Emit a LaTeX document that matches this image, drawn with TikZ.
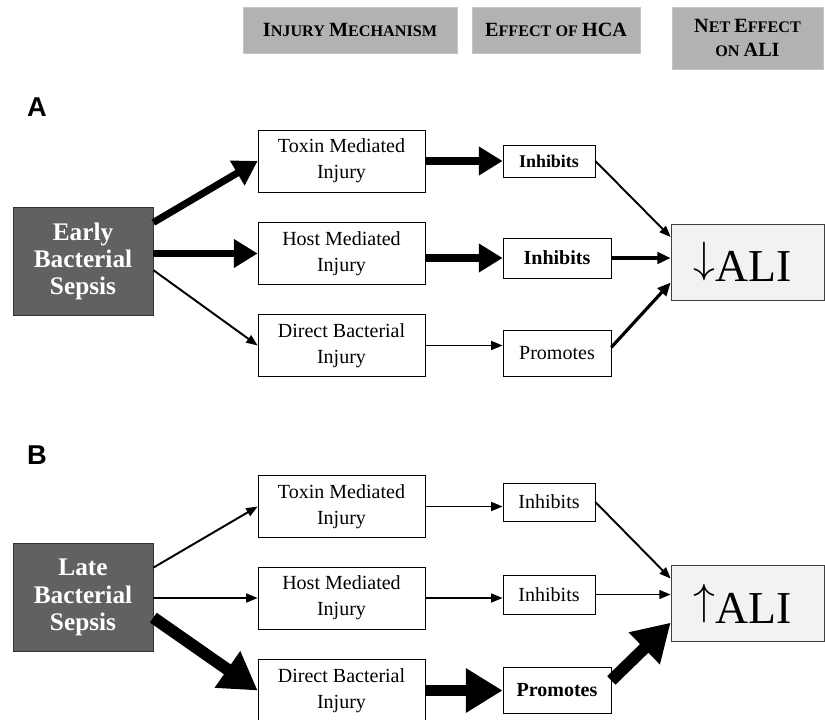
\documentclass[tikz,border=0pt]{standalone}
\usepackage{fontspec}
\setmainfont{Liberation Serif}
\newfontfamily\panelfont{Liberation Sans}
\usetikzlibrary{arrows.meta}
\newcommand{\capl}[1]{{\fontsize{11.5}{14}\selectfont #1}}

\begin{document}
\begin{tikzpicture}[x=0.02cm, y=-0.02cm]
    \tikzstyle{header} = [fill=gray!60, draw=gray!45, inner sep=0pt, align=center, font=\bfseries\fontsize{9.2}{14}\selectfont]
    \tikzstyle{sepsis} = [fill=black!62, draw=black!80, text=white, minimum width=2.8cm, minimum height=2.16cm, align=center, font=\bfseries\fontsize{14.4}{15.6}\selectfont]
    \tikzstyle{mech} = [draw, fill=white, minimum width=3.34cm, minimum height=1.24cm, align=center, font=\fontsize{11.4}{15}\selectfont]
    \tikzstyle{effect} = [draw, fill=white, inner sep=0pt, font=\fontsize{11.4}{14}\selectfont]
    \tikzstyle{ali} = [draw=black!75, fill=gray!10, minimum width=3.06cm, minimum height=1.52cm, font=\fontsize{26}{30}\selectfont]
    \tikzstyle{panel} = [font=\panelfont\bfseries\fontsize{15.5}{18}\selectfont]
    \tikzstyle{lightarrow} = [line width=1.1pt, -{Triangle[length=6.5pt, width=5pt]}]
    \tikzstyle{midarrow} = [line width=1.8pt, -{Triangle[length=7.5pt, width=6.5pt]}]
    \tikzstyle{boldarrow} = [line width=4pt, -{Triangle[length=13.5pt, width=15.5pt]}]
    \tikzstyle{heavyarrow} = [line width=6.8pt, -{Triangle[length=21pt, width=24pt]}]
    \useasboundingbox (0, 0) rectangle (825, 720);

    % column headers
    \node[header, minimum width=4.28cm, minimum height=0.92cm] (hdmech) at (350, 30) {\capl{I}NJURY \capl{M}ECHANISM};
    \node[header, minimum width=3.36cm, minimum height=0.92cm] (hdhca) at (556, 30) {\capl{E}FFECT OF \capl{HCA}};
    \node[header, minimum width=3.02cm, minimum height=1.24cm] (hdnet) at (747.5, 38) {\capl{N}ET \capl{E}FFECT\\ON \capl{ALI}};

    % panel A
    \node[panel] (labA) at (37, 107) {A};
    \node[sepsis] (early) at (83, 261.5) {Early\\Bacterial\\Sepsis};
    \node[mech] (toxA) at (341.5, 161) {Toxin Mediated\\Injury};
    \node[mech] (hostA) at (341.5, 253.5) {Host Mediated\\Injury};
    \node[mech] (directA) at (341.5, 345.5) {Direct Bacterial\\Injury};
    \node[effect, minimum width=1.84cm, minimum height=0.64cm, font=\bfseries\fontsize{10.2}{12}\selectfont] (inhA1) at (549, 161) {Inhibits};
    \node[effect, minimum width=2.16cm, minimum height=0.8cm, font=\bfseries\fontsize{11.4}{14}\selectfont] (inhA2) at (557, 258) {Inhibits};
    \node[effect, minimum width=2.16cm, minimum height=0.92cm] (proA) at (557, 353) {Promotes};
    \node[ali] (aliA) at (747.5, 262) {\hspace*{-6pt}\raisebox{0.2em}{\(\downarrow\)}ALI};

    \draw[boldarrow] (early.29) -- (toxA.west);
    \draw[boldarrow] (early.east |- hostA.west) -- (hostA.west);
    \draw[lightarrow] (early.-7) -- (directA.west);
    \draw[boldarrow] (toxA.east) -- (inhA1.west);
    \draw[boldarrow] (hostA.east |- inhA2.west) -- (inhA2.west);
    \draw[lightarrow] (directA.east) -- (directA.east -| proA.west);
    \draw[lightarrow] (inhA1.east) -- (aliA.162);
    \draw[midarrow] (inhA2.east) -- (inhA2.east -| aliA.west);
    \draw[midarrow] (proA.6) -- (aliA.195);

    % panel B
    \node[panel] (labB) at (37, 455) {B};
    \node[sepsis] (late) at (83, 597.5) {Late\\Bacterial\\Sepsis};
    \node[mech] (toxB) at (341.5, 506.5) {Toxin Mediated\\Injury};
    \node[mech] (hostB) at (341.5, 598) {Host Mediated\\Injury};
    \node[mech] (directB) at (341.5, 690.5) {Direct Bacterial\\Injury};
    \node[effect, minimum width=1.84cm, minimum height=0.76cm] (inhB1) at (549, 502) {Inhibits};
    \node[effect, minimum width=1.84cm, minimum height=0.78cm] (inhB2) at (549, 594.5) {Inhibits};
    \node[effect, minimum width=2.16cm, minimum height=0.92cm, font=\bfseries\fontsize{11.4}{14}\selectfont] (proB) at (557, 690) {Promotes};
    \node[ali] (aliB) at (747.5, 603.5) {\hspace*{-6pt}\raisebox{0.2em}{\(\uparrow\)}ALI};

    \draw[lightarrow] (late.23) -- (toxB.west);
    \draw[lightarrow] (late.east |- hostB.west) -- (hostB.west);
    \draw[heavyarrow] (late.-16) -- (directB.west);
    \draw[lightarrow] (toxB.east) -- (toxB.east -| inhB1.west);
    \draw[lightarrow] (hostB.east) -- (hostB.east -| inhB2.west);
    \draw[heavyarrow] (directB.east) -- (directB.east -| proB.west);
    \draw[lightarrow] (inhB1.east) -- (aliB.162);
    \draw[lightarrow] (inhB2.east) -- (inhB2.east -| aliB.west);
    \draw[heavyarrow] (proB.10) -- (aliB.194);
\end{tikzpicture}
\end{document}
